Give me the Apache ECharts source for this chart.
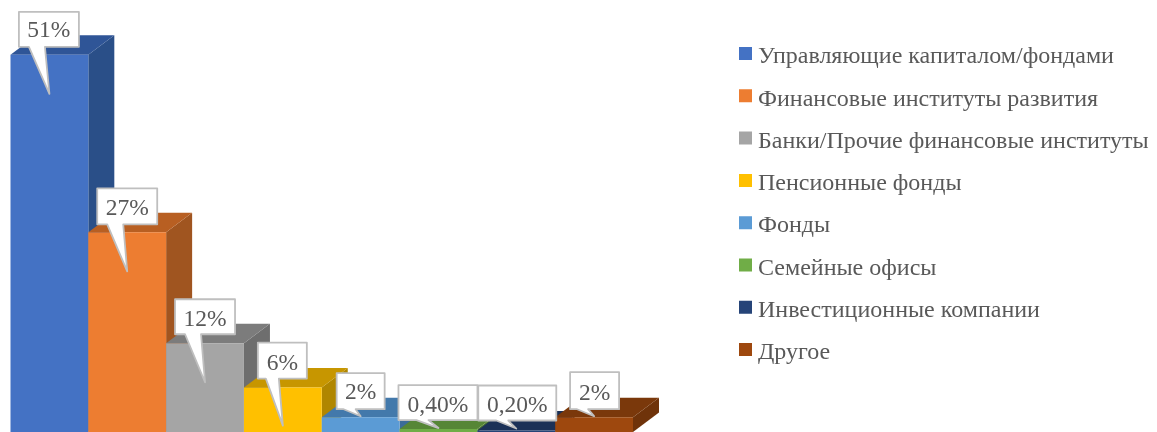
<!DOCTYPE html>
<html><head><meta charset="utf-8">
<style>html,body{margin:0;padding:0;background:#fff}#c{width:1157px;height:432px}</style>
<script src="https://cdn.jsdelivr.net/npm/echarts@6/dist/echarts.min.js"></script>
</head><body><div id="c"></div>
<script>
const categories = ['Управляющие капиталом/фондами','Финансовые институты развития','Банки/Прочие финансовые институты','Пенсионные фонды','Фонды','Семейные офисы','Инвестиционные компании','Другое'];
const values = [51,27,12,6,2,0.4,0.2,2];
const valueLabels = ['51%','27%','12%','6%','2%','0,40%','0,20%','2%'];

const frontColors = ['#4472C4','#ED7D31','#A5A5A5','#FFC000','#5B9BD5','#70AD47','#264478','#9E480E'];
const topColors   = ['#2F5597','#B85F22','#7C7C7C','#C79600','#4379AB','#568636','#1B3157','#7A380B'];
const sideColors  = ['#2A4F88','#A05520','#6E6E6E','#B08600','#3C6C99','#4C7730','#172A4B','#6F330A'];
// callout layout relative to its pointer tip: box left, box top, box width, box height, pointer base start, end (from box left), text shift
const calloutLayout = [
  [-30.5,-82,60,35,10,26,2],[-30,-83,60,36,10,26,3],[-30,-83,60,35,10,26,3],[-25,-83,49,36,8,21,3],
  [-24,-43,48,36,7,19,1.5],[-40,-43,79,35,18,30,3],[-38,-43,78,35,18,30,3],[-24,-44,49,37,7,18,3]
];
const tipDrop = [39,39,39,38,-1,-1,-2,-1];
const DX = 26, DY = 19.5;

function barItem(params, api) {
  const idx = api.value(0);
  const top = api.coord([idx, api.value(1)]);
  const base = api.coord([idx, 0]);
  const w = api.size([1, 0])[0];
  const l = top[0] - w / 2, r = top[0] + w / 2, t = top[1], b = base[1];
  const poly = (pts, fill) => ({type:'polygon', shape:{points:pts}, style:{fill, stroke:null}});
  return {type:'group', children:[
    poly([[r,b],[r+DX,b-DY],[r+DX,t-DY],[r,t]], sideColors[idx]),
    poly([[l,t],[l+DX,t-DY],[r+DX,t-DY],[r,t]], topColors[idx]),
    poly([[l,t],[r,t],[r,b],[l,b]], frontColors[idx])
  ]};
}
function calloutItem(params, api) {
  const idx = api.value(0);
  const top = api.coord([idx, api.value(1)]);
  const tip = [top[0], top[1] + tipDrop[idx]];
  const [bx, by, bw, bh, p0, p1, ty] = calloutLayout[idx];
  const x = tip[0] + bx, y = tip[1] + by;
  return {type:'group', children:[{
    type:'polygon',
    shape:{points:[[x,y],[x+bw,y],[x+bw,y+bh],[x+p1,y+bh],tip,[x+p0,y+bh],[x,y+bh]]},
    style:{fill:'#fff', stroke:'#BFBFBF', lineWidth:1.8, lineJoin:'round'}
  },{
    type:'text', x:x+bw/2, y:y+bh/2+ty,
    style:{text:valueLabels[idx], fill:'#595959', font:'23.5px "Liberation Serif"', align:'center', verticalAlign:'middle'}
  }]};
}
const chart = echarts.init(document.getElementById('c'), null, {renderer:'canvas'});
const barSeries = categories.map((name,i)=>({
  type:'custom', name, coordinateSystem:'cartesian2d', renderItem:barItem, clip:false,
  itemStyle:{color:frontColors[i]}, data:[[i,values[i]]], encode:{x:0,y:1}, animation:false, silent:true
}));
chart.setOption({
  animation:false,
  backgroundColor:'#fff',
  grid:{left:10.5,width:622.5,top:25.2,height:408.1},
  xAxis:{type:'category',data:categories.map((_,i)=>i),show:false},
  yAxis:{type:'value',min:0,max:55,show:false},
  legend:{
    orient:'vertical',left:739,top:44,padding:0,itemWidth:13,itemHeight:20,itemGap:16.3,
    icon:'path://M0 0H13V13H0Z M0 20H0.01Z',selectedMode:false,data:categories,
    textStyle:{fontFamily:'Liberation Serif',fontSize:24,color:'#595959',padding:[0,0,0,1],lineHeight:26}
  },
  series:[...barSeries,{
    type:'custom',name:'callouts',renderItem:calloutItem,clip:false,z:10,silent:true,animation:false,
    data:values.map((v,i)=>[i,v]),encode:{x:0,y:1}
  }]
});
</script></body></html>
